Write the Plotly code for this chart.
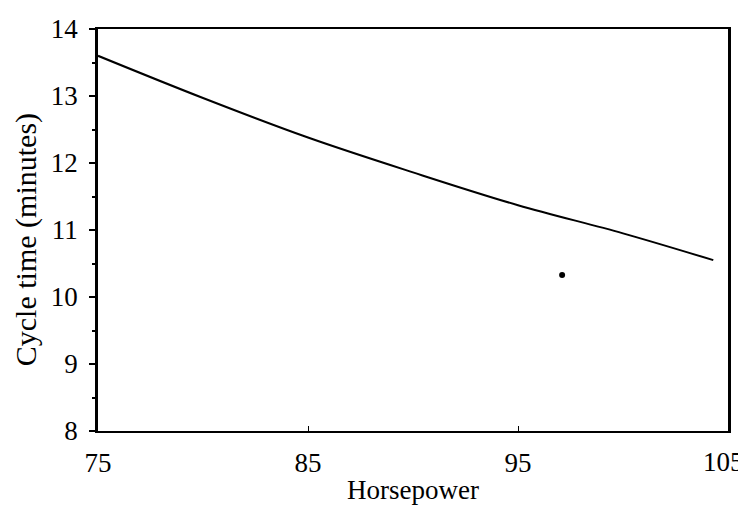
import plotly.graph_objects as go

hp = [75, 80, 85, 90, 95, 100, 104.3]
cycle_time = [13.6, 12.97, 12.38, 11.86, 11.37, 10.95, 10.55]
point_hp = [97.1]
point_ct = [10.33]
x_ticks = [75, 85, 95, 105]
x_tick_labels = ["75", "85", "95", ""]
last_x_label = "105"
y_ticks = [8, 9, 10, 11, 12, 13, 14]

fam = "Liberation Serif, Times New Roman, serif"
font = dict(family=fam, size=27, color="black")

fig = go.Figure()
fig.add_trace(go.Scatter(x=hp, y=cycle_time, mode="lines", line=dict(color="black", width=2, shape="spline"),
                         showlegend=False, hoverinfo="skip"))
fig.add_trace(go.Scatter(x=point_hp, y=point_ct, mode="markers", marker=dict(color="black", size=6),
                         showlegend=False, hoverinfo="skip"))

fig.update_layout(
    width=738, height=497,
    margin=dict(l=90, r=18, t=21, b=74),
    paper_bgcolor="white", plot_bgcolor="white",
    font=font,
    xaxis=dict(range=[75, 105], tickvals=x_ticks, ticktext=x_tick_labels, ticks="inside", ticklen=5,
               tickcolor="black",
               showline=True, linecolor="black", linewidth=2, mirror=True, showgrid=False, zeroline=False,
               automargin=False, ticklabeloverflow="allow", ticklabelstandoff=7,
               title=dict(text="Horsepower", standoff=10, font=dict(family=fam, size=27, color="black")),
               tickfont=font),
    yaxis=dict(range=[8, 14], tickvals=y_ticks, ticks="outside", ticklen=6, tickcolor="black", tickwidth=1.5,
               showline=True, linecolor="black", linewidth=2.5, mirror=True, showgrid=False, zeroline=False,
               automargin=False, ticklabeloverflow="allow", ticklabelstandoff=6,
               minor=dict(dtick=0.5, ticks="outside", ticklen=3, tickcolor="black"),
               tickfont=font),
    annotations=[
        dict(text="Cycle time (minutes)", textangle=-90, xref="paper", yref="paper",
             x=-0.114, y=0.475, xanchor="center", yanchor="middle", showarrow=False,
             font=dict(family=fam, size=30, color="black")),
        dict(text=last_x_label, xref="x", yref="paper", x=x_ticks[-1], y=-0.077, xshift=-5,
             xanchor="center", yanchor="middle", showarrow=False, font=font),
    ],
)
fig.write_html("out.html")
